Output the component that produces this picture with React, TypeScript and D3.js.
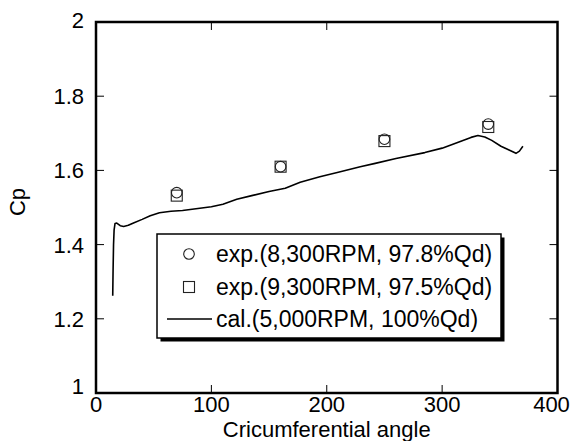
import React from "react";
import * as d3 from "d3";

const angles = [70, 160, 250, 340];
const exp8300 = [1.54, 1.61, 1.684, 1.725];
const exp9300 = [1.532, 1.61, 1.679, 1.717];

const calAngle = [14.5, 14.8, 15.2, 15.7, 16.5, 18, 21, 24, 28, 33, 40, 47, 55, 65, 75, 85, 100, 110, 122, 135, 150, 164, 177, 194, 210, 229, 242, 260, 285, 300, 314, 325, 331, 337, 343, 351, 358, 364, 367, 370];
const calCp = [1.262, 1.33, 1.4, 1.44, 1.457, 1.458, 1.451, 1.449, 1.452, 1.459, 1.468, 1.478, 1.486, 1.49, 1.492, 1.496, 1.502, 1.509, 1.522, 1.532, 1.543, 1.552, 1.568, 1.583, 1.595, 1.61, 1.619, 1.632, 1.648, 1.66, 1.676, 1.689, 1.694, 1.69, 1.681, 1.665, 1.655, 1.646, 1.652, 1.665];

const xTicks = [0, 100, 200, 300, 400];
const yTicks = [1, 1.2, 1.4, 1.6, 1.8, 2];
const yTickLabels = ["1", "1.2", "1.4", "1.6", "1.8", "2"];
const legendLabels = ["exp.(8,300RPM, 97.8%Qd)", "exp.(9,300RPM, 97.5%Qd)", "cal.(5,000RPM, 100%Qd)"];

const FONT = "'Liberation Sans', Arial, Helvetica, sans-serif";

export default function App() {
  const W = 575, H = 441;
  const left = 96, right = 557.5, top = 22, bottom = 393;
  const x = d3.scaleLinear().domain([0, 400]).range([left, right]);
  const y = d3.scaleLinear().domain([1, 2]).range([bottom, top]);
  const line = d3.line<number>().x((_, i) => x(calAngle[i])).y((d) => y(d)).curve(d3.curveLinear);

  const tickLen = 8;
  const lg = { x: 157, y: 234, w: 344, h: 104 };
  const rows = [254, 287, 319];

  return (
    <svg width={W} height={H} style={{ position: "absolute", left: 0, top: 0, background: "#fff" }} fontFamily={FONT}>
      <rect x={0} y={0} width={W} height={H} fill="#fff" />
      {/* ticks */}
      {xTicks.map((t) => (
        <g key={"xt" + t}>
          <line x1={x(t)} x2={x(t)} y1={bottom} y2={bottom - tickLen} stroke="#000" strokeWidth={1} />
          <line x1={x(t)} x2={x(t)} y1={top} y2={top + tickLen} stroke="#000" strokeWidth={1} />
          <text x={t === 400 ? x(t) - 6 : x(t)} y={412} textAnchor="middle" fontSize={22}>{t}</text>
        </g>
      ))}
      {yTicks.map((t, i) => (
        <g key={"yt" + t}>
          <line x1={left} x2={left + tickLen} y1={y(t)} y2={y(t)} stroke="#000" strokeWidth={1} />
          <line x1={right} x2={right - tickLen} y1={y(t)} y2={y(t)} stroke="#000" strokeWidth={1} />
          <text x={84} y={y(t) + 8 - (t === 1 ? 7 : 0) - (t === 2 ? 2 : 0)} textAnchor="end" fontSize={22}>{yTickLabels[i]}</text>
        </g>
      ))}
      {/* frame */}
      <rect x={left} y={top} width={right - left} height={bottom - top} fill="none" stroke="#000" strokeWidth={2.5} />
      {/* axis titles */}
      <text x={(left + right) / 2} y={437} textAnchor="middle" fontSize={22}>Cricumferential angle</text>
      <text transform={`translate(25,202) rotate(-90)`} textAnchor="middle" fontSize={22}>Cp</text>
      {/* calc line */}
      <path d={line(calCp) || ""} fill="none" stroke="#000" strokeWidth={1.6} strokeLinejoin="round" />
      {/* markers */}
      {angles.map((a, i) => (
        <circle key={"c" + a} cx={x(a)} cy={y(exp8300[i])} r={5.3} fill="none" stroke="#222" strokeWidth={1.1} />
      ))}
      {angles.map((a, i) => (
        <rect key={"s" + a} x={x(a) - 5.5} y={y(exp9300[i]) - 5.5} width={11} height={11} fill="none" stroke="#222" strokeWidth={1.1} />
      ))}
      {/* legend */}
      <rect x={lg.x + 3.5} y={lg.y + 3.5} width={lg.w} height={lg.h} fill="#000" />
      <rect x={lg.x} y={lg.y} width={lg.w} height={lg.h} fill="#fff" stroke="#000" strokeWidth={1.5} />
      <circle cx={189} cy={rows[0]} r={5.3} fill="none" stroke="#222" strokeWidth={1.1} />
      <rect x={189 - 5.5} y={rows[1] - 5.5} width={11} height={11} fill="none" stroke="#222" strokeWidth={1.1} />
      <line x1={167} x2={212} y1={rows[2]} y2={rows[2]} stroke="#000" strokeWidth={1.6} />
      {legendLabels.map((l, i) => (
        <text key={l} x={216} y={rows[i] + 8} fontSize={23}>{l}</text>
      ))}
    </svg>
  );
}
